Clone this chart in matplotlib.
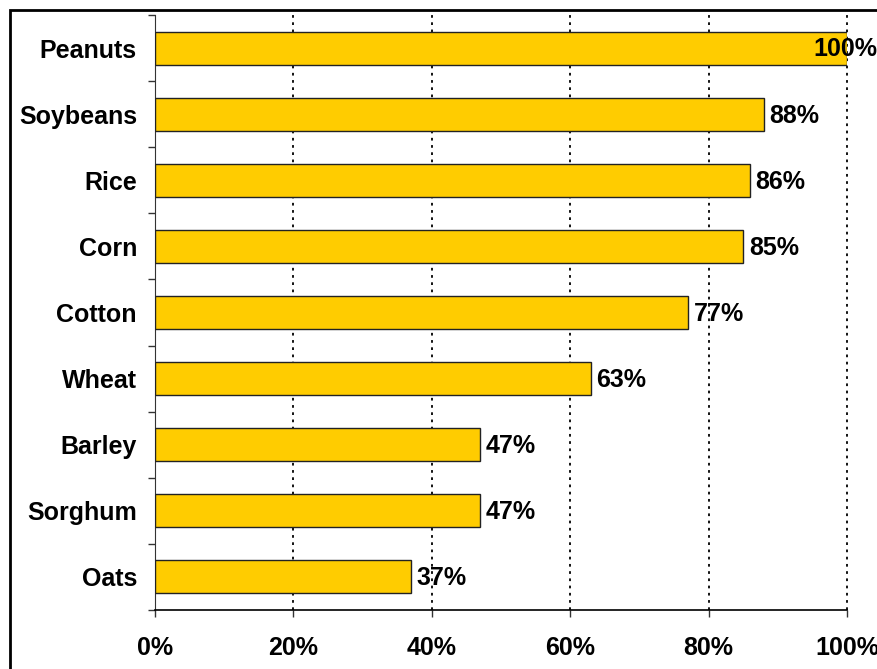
import matplotlib
matplotlib.use("Agg")
import matplotlib.pyplot as plt
from matplotlib.patches import Rectangle
from matplotlib.ticker import FixedLocator

crops = ["Oats", "Sorghum", "Barley", "Wheat", "Cotton", "Corn", "Rice", "Soybeans", "Peanuts"]
values = [37, 47, 47, 63, 77, 85, 86, 88, 100]
xticks = [0, 20, 40, 60, 80, 100]
xtick_labels = ["0%", "20%", "40%", "60%", "80%", "100%"]

plt.rcParams['font.family'] = ['Liberation Sans', 'DejaVu Sans']
fs = 18

fig = plt.figure(figsize=(8.78, 6.69), dpi=100)
ax = fig.add_axes([155/878, 1 - 610/669, (847 - 155)/878, (610 - 15)/669])

y = list(range(len(crops)))
ax.barh(y, values, height=0.5, color="#FFCC00", edgecolor="#222222", linewidth=1, zorder=3)

for yi, v in zip(y, values):
    if v >= 100:
        ax.annotate(f"{v}%", (v, yi), xytext=(22, -1), textcoords="offset points",
                    ha="right", va="center", fontsize=fs, fontweight="bold", zorder=4)
    else:
        ax.annotate(f"{v}%", (v, yi), xytext=(4, -1), textcoords="offset points",
                    ha="left", va="center", fontsize=fs, fontweight="bold", zorder=4)

ax.set_xlim(0, 100)
ax.set_ylim(-0.5, len(crops) - 0.5)
ax.set_xticks(xticks)
ax.set_xticklabels(xtick_labels, fontsize=fs, fontweight="bold")
ax.set_yticks(y)
ax.set_yticklabels(crops, fontsize=fs, fontweight="bold")
ax.yaxis.set_minor_locator(FixedLocator([i - 0.5 for i in range(len(crops) + 1)]))
ax.tick_params(axis="y", which="major", length=0, pad=13)
ax.tick_params(axis="y", which="minor", length=5, width=1, direction="out", color="#333333")
ax.tick_params(axis="x", which="major", length=5, width=1, direction="out", pad=14, color="#333333")

for gx in xticks[1:]:
    ax.axvline(gx, color="black", linestyle=(0, (1.5, 2.5)), linewidth=1.3, zorder=1, clip_on=False)

for s in ["top", "right"]:
    ax.spines[s].set_visible(False)
ax.spines["left"].set_color("#333333")
ax.spines["bottom"].set_color("black")
ax.spines["bottom"].set_linewidth(1.2)

frame = Rectangle((10/878, -0.1), 1.2, 1 - 10/669 + 0.1, transform=fig.transFigure,
                  fill=False, edgecolor="black", linewidth=2, clip_on=False)
fig.patches.append(frame)

fig.savefig("out.png", dpi=100)
